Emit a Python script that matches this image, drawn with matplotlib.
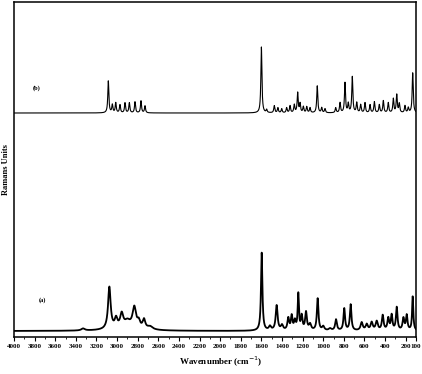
import numpy as np
import matplotlib.pyplot as plt

# peak tables: position (cm-1), height (arb.), FWHM (cm-1)
b_pos = [3085, 3046, 3013, 2972, 2923, 2881, 2826, 2768, 2729,
         1600, 1549, 1475, 1440, 1403, 1355, 1322, 1281, 1248, 1225, 1193,
         1160, 1128, 1058, 1015, 983, 879, 837, 789, 757, 718, 675, 637,
         595, 546, 504, 456, 417, 369, 320, 287, 262, 207, 175, 132]
b_h = [32, 8, 10, 8, 10, 10, 11, 12, 7,
       66, 3, 7, 5, 4, 5, 7, 8, 20, 9, 6,
       6, 5, 27, 5, 4, 5, 10, 30, 9, 36, 10, 8,
       10, 8, 11, 8, 12, 10, 14, 18, 9, 7, 5, 40]
b_w = 12

a_pos = [3330, 3075, 3010, 2955, 2900, 2833, 2790, 2739, 2680, 2900,
         1597, 1517, 1452, 1400, 1339, 1306, 1275, 1242, 1209, 1167, 1128,
         1054, 1000, 934, 876, 796, 734, 627, 578, 530, 481, 423, 369, 336,
         287, 222, 190, 132]
a_h = [2, 42, 9, 13, 5, 20, 6, 9, 3, 4,
       78, 4, 25, 5, 12, 14, 9, 36, 14, 18, 6,
       32, 4, 2, 11, 22, 26, 8, 6, 8, 9, 15, 12, 15,
       23, 12, 15, 34]
a_w = [40, 30, 30, 35, 60, 40, 30, 30, 60, 260,
       16, 25, 22, 25, 20, 18, 20, 14, 18, 20, 25,
       18, 25, 30, 20, 18, 18, 25, 25, 25, 25, 20, 20, 18,
       18, 20, 18, 14]

b_offset = 224
a_offset = 6

labels_x = list(range(4000, 100, -200)) + [100]


def spectrum(x, pos, h, w):
    w = np.broadcast_to(w, np.shape(pos))
    y = np.zeros_like(x)
    for p, a, g in zip(pos, h, w):
        y += a * (g / 2) ** 2 / ((x - p) ** 2 + (g / 2) ** 2)
    return y


x = np.linspace(4000, 100, 6000)
yb = spectrum(x, b_pos, b_h, b_w) + b_offset
ya = spectrum(x, a_pos, a_h, a_w) + a_offset

plt.rcParams['font.family'] = ['Liberation Serif', 'DejaVu Serif']

fig = plt.figure(figsize=(4.22, 3.74), dpi=100)
ax = fig.add_axes([14 / 422, 1 - 337 / 374, 402 / 422, 335 / 374])

ax.plot(x, yb, color='black', lw=0.8)
ax.plot(x, ya, color='black', lw=1.3)

ax.set_xlim(4000, 100)
ax.set_ylim(0, 335)

ax.text(3777, 249, '(b)', fontsize=4.5, fontweight='bold', ha='center', va='center')
ax.text(3728, 37, '(a)', fontsize=4.5, fontweight='bold', ha='center', va='center')

ax.set_xticks(labels_x)
ax.set_xticklabels([str(v) for v in labels_x], fontsize=5, fontweight='bold')
ax.set_xticks(list(range(3900, 200, -200)), minor=True)
ax.tick_params(axis='x', which='major', direction='out', length=3, width=0.8, pad=2)
ax.tick_params(axis='x', which='minor', direction='out', length=1.5, width=0.6)
ax.set_yticks([])

for s in ax.spines.values():
    s.set_linewidth(1.1)

ax.set_xlabel('Wavenumber (cm$^{-1}$)', fontsize=6.5, fontweight='bold', labelpad=4)
ax.xaxis.set_label_coords(0.515, -0.055)
ax.set_ylabel('Ramans Units', fontsize=6, fontweight='bold', labelpad=3)

fig.savefig('out.png', dpi=100)
